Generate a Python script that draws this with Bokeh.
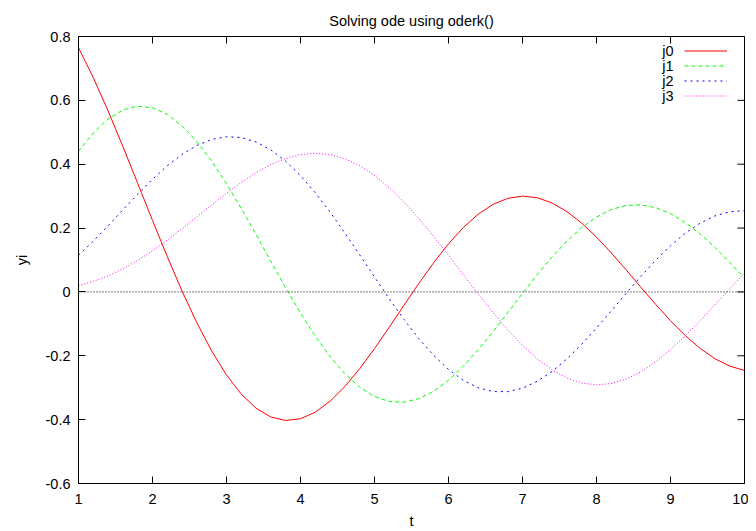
from bokeh.plotting import figure
from bokeh.models import FixedTicker, LinearAxis, Range1d, Legend, LegendItem, Label, Span
from bokeh.embed import file_html
from bokeh.resources import INLINE

t = [1.0, 1.2, 1.4, 1.6, 1.8, 2.0, 2.2, 2.4, 2.6, 2.8, 3.0, 3.2, 3.4, 3.6, 3.8,
     4.0, 4.2, 4.4, 4.6, 4.8, 5.0, 5.2, 5.4, 5.6, 5.8, 6.0, 6.2, 6.4, 6.6, 6.8,
     7.0, 7.2, 7.4, 7.6, 7.8, 8.0, 8.2, 8.4, 8.6, 8.8, 9.0, 9.2, 9.4, 9.6, 9.8, 10.0]

j0 = [0.7652, 0.6711, 0.5669, 0.4554, 0.3400, 0.2239, 0.1104, 0.0025, -0.0968, -0.1850,
      -0.2601, -0.3202, -0.3643, -0.3918, -0.4026, -0.3971, -0.3766, -0.3423, -0.2961, -0.2404,
      -0.1776, -0.1103, -0.0412, 0.0270, 0.0917, 0.1506, 0.2017, 0.2433, 0.2740, 0.2931,
      0.3001, 0.2951, 0.2786, 0.2516, 0.2154, 0.1717, 0.1222, 0.0692, 0.0146, -0.0392,
      -0.0903, -0.1367, -0.1768, -0.2090, -0.2323, -0.2459]

j1 = [0.4401, 0.4983, 0.5419, 0.5699, 0.5815, 0.5767, 0.5560, 0.5202, 0.4708, 0.4097,
      0.3391, 0.2613, 0.1792, 0.0955, 0.0128, -0.0660, -0.1386, -0.2028, -0.2566, -0.2985,
      -0.3276, -0.3432, -0.3453, -0.3343, -0.3110, -0.2767, -0.2329, -0.1816, -0.1250, -0.0652,
      -0.0047, 0.0543, 0.1096, 0.1592, 0.2014, 0.2346, 0.2580, 0.2708, 0.2728, 0.2641,
      0.2453, 0.2174, 0.1816, 0.1395, 0.0928, 0.0435]

j2 = [0.1149, 0.1594, 0.2073, 0.2570, 0.3061, 0.3528, 0.3951, 0.4310, 0.4590, 0.4777,
      0.4861, 0.4835, 0.4697, 0.4448, 0.4093, 0.3641, 0.3106, 0.2501, 0.1846, 0.1161,
      0.0466, -0.0217, -0.0867, -0.1464, -0.1989, -0.2429, -0.2768, -0.3001, -0.3119, -0.3123,
      -0.3014, -0.2800, -0.2490, -0.2097, -0.1638, -0.1130, -0.0593, -0.0047, 0.0488, 0.0992,
      0.1448, 0.1840, 0.2154, 0.2381, 0.2512, 0.2546]

j3 = [0.0196, 0.0330, 0.0504, 0.0726, 0.0987, 0.1289, 0.1624, 0.1981, 0.2354, 0.2727,
      0.3091, 0.3431, 0.3734, 0.3987, 0.4180, 0.4301, 0.4344, 0.4302, 0.4171, 0.3953,
      0.3649, 0.3265, 0.2811, 0.2297, 0.1738, 0.1148, 0.0543, -0.0060, -0.0640, -0.1185,
      -0.1675, -0.2099, -0.2442, -0.2696, -0.2854, -0.2911, -0.2869, -0.2730, -0.2501, -0.2190,
      -0.1809, -0.1374, -0.0899, -0.0403, 0.0097, 0.0583]

series_names = ["j0", "j1", "j2", "j3"]
x_ticks = [1, 2, 3, 4, 5, 6, 7, 8, 9, 10]
x_tick_labels = ["1", "2", "3", "4", "5", "6", "7", "8", "9", "10"]
y_ticks = [-0.6, -0.4, -0.2, 0.0, 0.2, 0.4, 0.6, 0.8]
y_tick_labels = ["-0.6", "-0.4", "-0.2", "0", "0.2", "0.4", "0.6", "0.8"]
title_text = "Solving ode using oderk()"

FONT = "Liberation Sans"
FS = "14.5px"
FRAME_W, FRAME_H, TICK = 666, 448, 7

p = figure(width=748, height=531, output_backend="svg", toolbar_location=None,
           x_range=Range1d(1, 10), y_range=Range1d(-0.6, 0.8),
           x_axis_location=None, y_axis_location=None,
           min_border_left=78, min_border_right=4, min_border_top=36, min_border_bottom=47,
           title=title_text)
p.extra_x_ranges = {"px": Range1d(0, FRAME_W)}
p.extra_y_ranges = {"px": Range1d(0, FRAME_H)}
p.title.align = "center"
p.title.text_font = FONT
p.title.text_font_size = FS
p.title.text_font_style = "normal"
p.title.text_color = "black"
p.title.standoff = 16
p.grid.visible = False
p.outline_line_color = "black"
p.outline_line_width = 1
p.background_fill_color = "white"
p.border_fill_color = "white"

def make_axis(ticks, tick_labels, axis_label, label_standoff, axis_standoff):
    ax = LinearAxis(ticker=FixedTicker(ticks=ticks))
    ax.major_label_overrides = {tk: lb for tk, lb in zip(ticks, tick_labels)}
    ax.major_tick_in = TICK
    ax.major_tick_out = 0
    ax.minor_tick_line_color = None
    ax.axis_line_color = "black"
    ax.major_tick_line_color = "black"
    ax.major_label_text_font = FONT
    ax.major_label_text_font_size = FS
    ax.major_label_text_color = "black"
    ax.major_label_standoff = label_standoff
    ax.axis_label = axis_label
    ax.axis_label_text_font = FONT
    ax.axis_label_text_font_size = FS
    ax.axis_label_text_font_style = "normal"
    ax.axis_label_text_color = "black"
    ax.axis_label_standoff = axis_standoff
    return ax

p.add_layout(make_axis(x_ticks, x_tick_labels, "t", 10, 6), "below")
p.add_layout(make_axis(y_ticks, y_tick_labels, "yi", 8, 13), "left")

# mirrored ticks on the top and right edges of the frame
p.segment(x0=x_ticks, y0=[FRAME_H] * len(x_ticks), x1=x_ticks, y1=[FRAME_H - TICK] * len(x_ticks),
          y_range_name="px", line_color="black", line_width=1)
p.segment(x0=[FRAME_W] * len(y_ticks), y0=y_ticks, x1=[FRAME_W - TICK] * len(y_ticks), y1=y_ticks,
          x_range_name="px", line_color="black", line_width=1)

p.add_layout(Span(location=0, dimension="width", line_color="black",
                  line_dash="1 2", line_width=1))

colors = ["#ff0000", "#00ff00", "#0000ff", "#ff00ff"]
dashes = ["solid", "4 3", "2 4", "1 2"]
series = [j0, j1, j2, j3]
items = []
for name, ys, c, d in zip(series_names, series, colors, dashes):
    r = p.line(t, ys, line_color=c, line_width=1, line_dash=d)
    items.append(LegendItem(label="", renderers=[r]))

legend = Legend(items=items, location=(606, 380), orientation="vertical",
                glyph_width=43, glyph_height=15, label_width=0, label_height=15,
                label_standoff=0, spacing=0, padding=0, margin=0,
                border_line_color=None, background_fill_alpha=0)
p.add_layout(legend, "center")

for i, name in enumerate(series_names):
    p.add_layout(Label(x=595, y=433 - 15 * i, x_units="screen", y_units="screen",
                       text=name, text_align="right", text_baseline="middle",
                       text_font=FONT, text_font_size=FS, text_color="black"))

open("out.html", "w").write(file_html(p, INLINE))
